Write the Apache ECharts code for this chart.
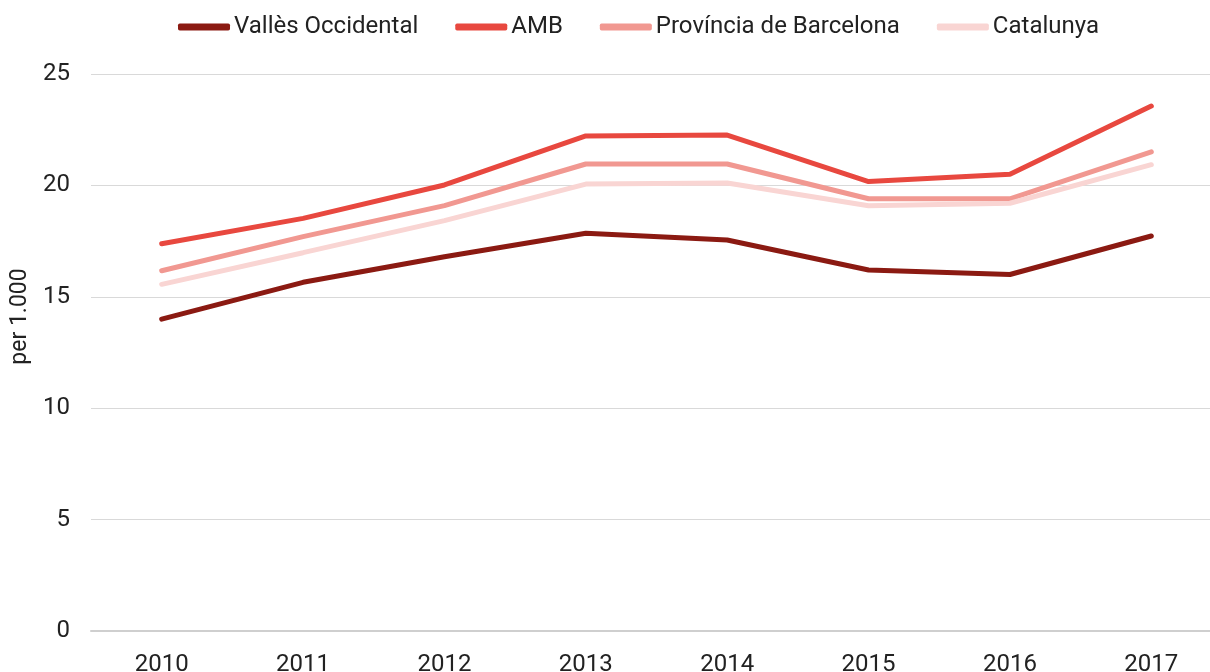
<!DOCTYPE html>
<html>
<head>
<meta charset="utf-8">
<script src="https://cdn.jsdelivr.net/npm/echarts@6/dist/echarts.min.js"></script>
<style>
  html, body { margin: 0; padding: 0; background: #fff; }
  #mychart { width: 1210px; height: 672px; }
</style>
</head>
<body>
<div id="mychart"></div>
<script>
// anys
const years = ['2010', '2011', '2012', '2013', '2014', '2015', '2016', '2017'];
// per 1.000
const valles = [14.0, 15.65, 16.8, 17.85, 17.55, 16.2, 16.0, 17.73];
const amb = [17.38, 18.52, 20.02, 22.22, 22.26, 20.17, 20.5, 23.56];
const provincia = [16.17, 17.7, 19.09, 20.96, 20.96, 19.4, 19.4, 21.51];
const catalunya = [15.56, 16.98, 18.42, 20.06, 20.11, 19.09, 19.2, 20.93];

const colors = ['#8b1a12', '#e8483f', '#f19891', '#f9d5d3'];

function makeSeries (name, data, color) {
  return {
    name: name,
    type: 'line',
    data: data,
    symbol: 'none',
    lineStyle: { width: 5, color: color, cap: 'round' },
    itemStyle: { color: color }
  };
}

const option = {
  animation: false,
  legend: {
    top: 10,
    left: 173,
    itemWidth: 52,
    itemHeight: 7,
    itemGap: 37,
    icon: 'roundRect',
    textStyle: { fontFamily: 'Roboto', fontSize: 24, color: '#222', padding: [0, 0, 0, -1] },
    data: ['Vallès Occidental', 'AMB', 'Província de Barcelona', 'Catalunya']
  },
  grid: {
    left: 91,
    right: -12,
    top: 74,
    bottom: 41,
    outerBoundsMode: 'none'
  },
  xAxis: {
    type: 'category',
    data: years,
    boundaryGap: true,
    axisLine: { lineStyle: { color: '#cfcfcf', width: 2 } },
    axisTick: { show: false },
    axisLabel: { fontFamily: 'Roboto', fontSize: 24, color: '#222', margin: 22 }
  },
  yAxis: {
    type: 'value',
    min: 0,
    max: 25,
    interval: 5,
    name: 'per 1.000',
    nameLocation: 'middle',
    nameGap: 56,
    nameTextStyle: { fontFamily: 'Roboto', fontSize: 23, color: '#222', padding: [0, 0, 0, 72] },
    axisLine: { show: false },
    axisTick: { show: false },
    axisLabel: { fontFamily: 'Roboto', fontSize: 24, color: '#222', margin: 21 },
    splitLine: { lineStyle: { color: '#d9d9d9', width: 1 } }
  },
  series: [
    makeSeries('Vallès Occidental', valles, colors[0]),
    makeSeries('AMB', amb, colors[1]),
    makeSeries('Província de Barcelona', provincia, colors[2]),
    makeSeries('Catalunya', catalunya, colors[3])
  ]
};

const myChart = echarts.init(document.getElementById('mychart'));
myChart.setOption(option);
window.addEventListener('resize', () => {
  myChart.resize();
});
</script>
</body>
</html>
